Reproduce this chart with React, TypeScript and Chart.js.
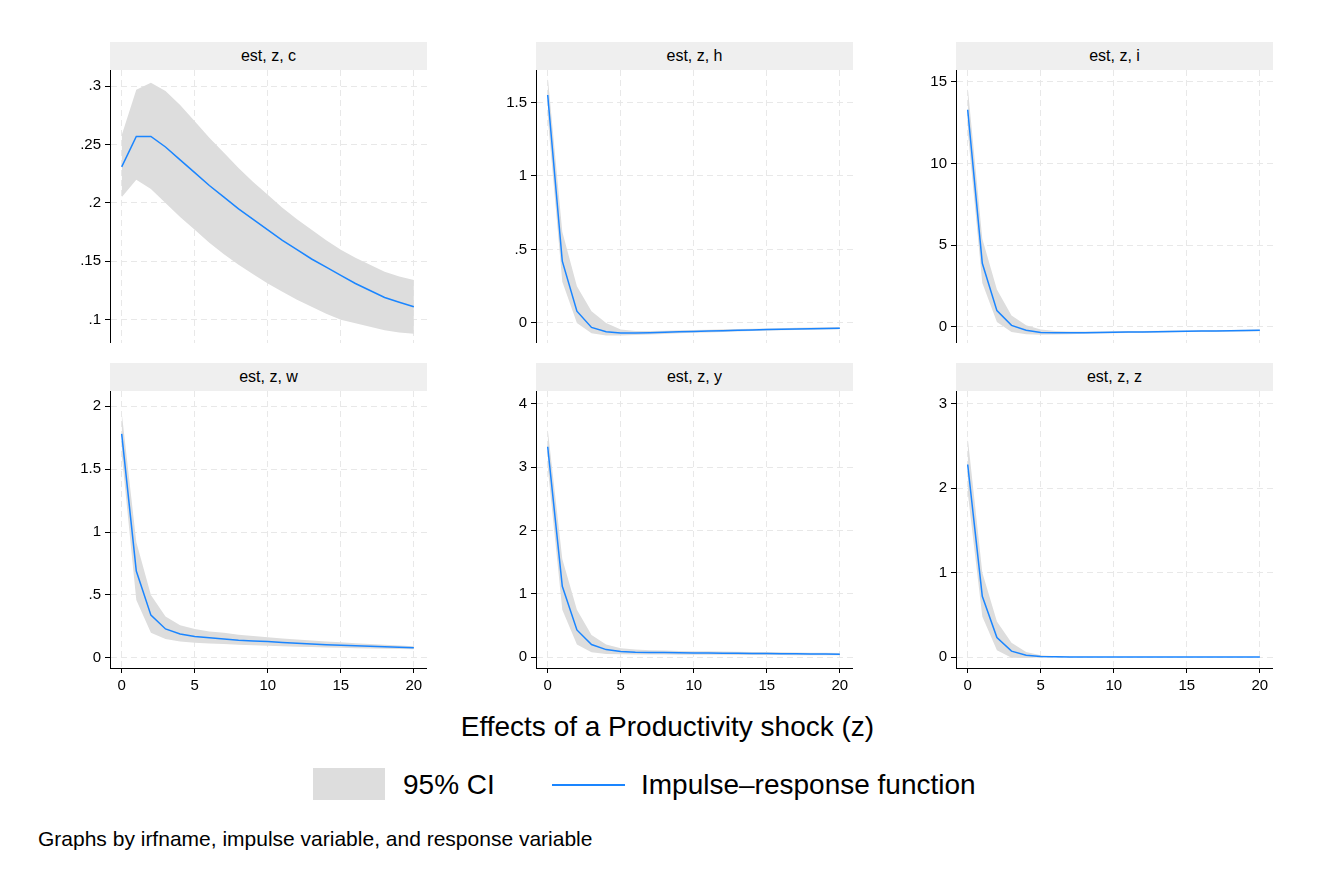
import { useEffect, useRef } from "react";
import { Chart, registerables } from "chart.js";

Chart.register(...registerables);

const steps = Array.from({ length: 21 }, (_, i) => i);
const xTicks = [0, 5, 10, 15, 20];

const cIrf = [0.231, 0.257, 0.257, 0.248, 0.237, 0.226, 0.215, 0.205, 0.195, 0.186, 0.177, 0.168, 0.16, 0.152, 0.145, 0.138, 0.131, 0.125, 0.119, 0.115, 0.111];
const cLo = [0.205, 0.22, 0.212, 0.2, 0.188, 0.177, 0.166, 0.156, 0.147, 0.139, 0.131, 0.124, 0.117, 0.111, 0.105, 0.1, 0.097, 0.094, 0.091, 0.089, 0.088];
const cHi = [0.258, 0.297, 0.303, 0.296, 0.284, 0.27, 0.256, 0.243, 0.23, 0.218, 0.207, 0.196, 0.186, 0.177, 0.168, 0.16, 0.153, 0.147, 0.141, 0.137, 0.134];

const hIrf = [1.55, 0.42, 0.08, -0.03, -0.06, -0.068, -0.068, -0.066, -0.063, -0.06, -0.057, -0.055, -0.052, -0.05, -0.047, -0.045, -0.043, -0.041, -0.039, -0.037, -0.035];
const hLo = [1.4, 0.28, 0.0, -0.07, -0.085, -0.085, -0.082, -0.078, -0.074, -0.07, -0.067, -0.064, -0.061, -0.058, -0.055, -0.052, -0.05, -0.048, -0.046, -0.044, -0.042];
const hHi = [1.68, 0.62, 0.25, 0.08, 0.0, -0.045, -0.054, -0.054, -0.052, -0.05, -0.048, -0.046, -0.043, -0.041, -0.039, -0.037, -0.035, -0.033, -0.031, -0.029, -0.027];

const iIrf = [13.3, 3.9, 1.0, 0.1, -0.2, -0.33, -0.36, -0.36, -0.35, -0.34, -0.32, -0.31, -0.3, -0.29, -0.27, -0.26, -0.25, -0.24, -0.23, -0.22, -0.2];
const iLo = [12.0, 2.7, 0.3, -0.3, -0.45, -0.47, -0.46, -0.44, -0.42, -0.4, -0.38, -0.37, -0.35, -0.34, -0.32, -0.31, -0.3, -0.29, -0.28, -0.27, -0.26];
const iHi = [14.7, 5.4, 2.3, 0.7, 0.1, -0.15, -0.24, -0.27, -0.27, -0.27, -0.26, -0.25, -0.24, -0.23, -0.22, -0.21, -0.2, -0.19, -0.18, -0.17, -0.15];

const wIrf = [1.78, 0.69, 0.34, 0.23, 0.19, 0.17, 0.16, 0.15, 0.14, 0.135, 0.13, 0.123, 0.117, 0.111, 0.105, 0.1, 0.096, 0.092, 0.088, 0.084, 0.08];
const wLo = [1.62, 0.46, 0.2, 0.15, 0.13, 0.12, 0.115, 0.11, 0.105, 0.1, 0.097, 0.093, 0.089, 0.086, 0.083, 0.08, 0.077, 0.075, 0.072, 0.07, 0.068];
const wHi = [1.95, 0.92, 0.5, 0.33, 0.26, 0.23, 0.21, 0.2, 0.185, 0.175, 0.165, 0.155, 0.147, 0.139, 0.131, 0.124, 0.117, 0.111, 0.105, 0.099, 0.093];

const yIrf = [3.32, 1.12, 0.43, 0.2, 0.12, 0.09, 0.08, 0.076, 0.073, 0.07, 0.068, 0.066, 0.064, 0.062, 0.06, 0.058, 0.056, 0.054, 0.052, 0.05, 0.048];
const yLo = [3.0, 0.75, 0.2, 0.08, 0.05, 0.045, 0.044, 0.043, 0.042, 0.041, 0.04, 0.039, 0.038, 0.037, 0.036, 0.035, 0.034, 0.033, 0.032, 0.031, 0.03];
const yHi = [3.6, 1.55, 0.75, 0.35, 0.2, 0.14, 0.12, 0.11, 0.105, 0.1, 0.096, 0.093, 0.09, 0.087, 0.084, 0.081, 0.078, 0.075, 0.072, 0.069, 0.066];

const zIrf = [2.28, 0.72, 0.23, 0.07, 0.02, 0.006, 0.002, 0.001, 0, 0, 0, 0, 0, 0, 0, 0, 0, 0, 0, 0, 0];
const zLo = [1.95, 0.48, 0.08, -0.01, -0.012, -0.006, -0.003, -0.001, 0, 0, 0, 0, 0, 0, 0, 0, 0, 0, 0, 0, 0];
const zHi = [2.6, 1.0, 0.42, 0.17, 0.06, 0.022, 0.01, 0.004, 0.002, 0.001, 0, 0, 0, 0, 0, 0, 0, 0, 0, 0, 0];

const FONT = "Arial, 'Liberation Sans', sans-serif";
const GRIDC = "#e8e8e8";

interface PanelProps {
  title: string;
  left: number;
  top: number;
  bottomRow: boolean;
  irf: number[];
  lo: number[];
  hi: number[];
  yMin: number;
  yMax: number;
  yTicks: number[];
}

const fmt = (v: number) => {
  const r = Math.round(v * 1000) / 1000;
  return r.toString().replace(/^0\./, ".").replace(/^-0\./, "-.");
};

function Panel({ title, left, top, bottomRow, irf, lo, hi, yMin, yMax, yTicks }: PanelProps) {
  const ref = useRef<HTMLCanvasElement>(null);
  const plotW = 317;
  const plotH = bottomRow ? 277 : 273;
  const axisW = 60;
  const xAxisH = bottomRow ? 40 : 0;

  useEffect(() => {
    if (!ref.current) return;
    const chart = new Chart(ref.current, {
      type: "line",
      data: {
        labels: steps,
        datasets: [
          { data: steps.map((x, k) => ({ x, y: lo[k] })), borderWidth: 0, pointRadius: 0, fill: false },
          { data: steps.map((x, k) => ({ x, y: hi[k] })), borderWidth: 0, pointRadius: 0, fill: "-1", backgroundColor: "#dddddd" },
          { data: steps.map((x, k) => ({ x, y: irf[k] })), borderColor: "#1a85ff", borderWidth: 1.5, pointRadius: 0, fill: false },
        ],
      },
      options: {
        animation: false,
        responsive: false,
        layout: { padding: 0 },
        plugins: {
          legend: { display: false },
          tooltip: { enabled: false },
          filler: { drawTime: "beforeDatasetsDraw" },
        },
        scales: {
          x: {
            type: "linear",
            min: -0.8,
            max: 20.9,
            afterBuildTicks: (s) => { s.ticks = xTicks.map((v) => ({ value: v })); },
            afterFit: (s) => { s.height = xAxisH; s.paddingLeft = 0; s.paddingRight = 0; },
            ticks: { display: bottomRow, color: "#000", font: { family: FONT, size: 15 }, padding: 4 },
            grid: { color: GRIDC, tickColor: bottomRow ? "#000" : "transparent", tickLength: 5, tickBorderDash: [] },
            border: { display: bottomRow, color: "#000", dash: [6, 4] },
          },
          y: {
            min: yMin,
            max: yMax,
            afterBuildTicks: (s) => { s.ticks = yTicks.map((v) => ({ value: v })); },
            afterFit: (s) => { s.width = axisW; s.paddingTop = 0; s.paddingBottom = 0; },
            ticks: { color: "#000", font: { family: FONT, size: 15 }, padding: 4, callback: (v) => fmt(Number(v)) },
            grid: { color: GRIDC, tickColor: "#000", tickLength: 5, tickBorderDash: [] },
            border: { color: "#000", dash: [6, 4] },
          },
        },
      },
    });
    return () => chart.destroy();
  }, []);

  return (
    <>
      <div style={{ position: "absolute", left, top: top - 28, width: plotW, height: 28, background: "#efefef", font: `16px ${FONT}`, textAlign: "center", lineHeight: "28px" }}>{title}</div>
      <canvas ref={ref} width={plotW + axisW} height={plotH + xAxisH} style={{ position: "absolute", left: left - axisW, top, width: plotW + axisW, height: plotH + xAxisH }} />
    </>
  );
}

export default function App() {
  return (
    <div style={{ position: "fixed", left: 0, top: 0, width: 1335, height: 890, background: "#fff", fontFamily: FONT }}>
      <Panel title="est, z, c" left={110} top={70} bottomRow={false} irf={cIrf} lo={cLo} hi={cHi} yMin={0.08} yMax={0.314} yTicks={[0.1, 0.15, 0.2, 0.25, 0.3]} />
      <Panel title="est, z, h" left={536} top={70} bottomRow={false} irf={hIrf} lo={hLo} hi={hHi} yMin={-0.136} yMax={1.72} yTicks={[0, 0.5, 1, 1.5]} />
      <Panel title="est, z, i" left={956} top={70} bottomRow={false} irf={iIrf} lo={iLo} hi={iHi} yMin={-0.98} yMax={15.73} yTicks={[0, 5, 10, 15]} />
      <Panel title="est, z, w" left={110} top={391} bottomRow={true} irf={wIrf} lo={wLo} hi={wHi} yMin={-0.08} yMax={2.12} yTicks={[0, 0.5, 1, 1.5, 2]} />
      <Panel title="est, z, y" left={536} top={391} bottomRow={true} irf={yIrf} lo={yLo} hi={yHi} yMin={-0.17} yMax={4.2} yTicks={[0, 1, 2, 3, 4]} />
      <Panel title="est, z, z" left={956} top={391} bottomRow={true} irf={zIrf} lo={zLo} hi={zHi} yMin={-0.13} yMax={3.15} yTicks={[0, 1, 2, 3]} />
      <div style={{ position: "absolute", left: 0, width: 1335, top: 711, textAlign: "center", fontSize: 28 }}>Effects of a Productivity shock (z)</div>
      <div style={{ position: "absolute", left: 313, top: 768, width: 72, height: 32, background: "#dddddd" }} />
      <div style={{ position: "absolute", left: 403, top: 767, fontSize: 28, lineHeight: "36px" }}>95% CI</div>
      <div style={{ position: "absolute", left: 552, top: 784, width: 73, height: 2, background: "#1a85ff" }} />
      <div style={{ position: "absolute", left: 641, top: 767, fontSize: 28, lineHeight: "36px" }}>Impulse–response function</div>
      <div style={{ position: "absolute", left: 38, top: 827, fontSize: 21 }}>Graphs by irfname, impulse variable, and response variable</div>
    </div>
  );
}
